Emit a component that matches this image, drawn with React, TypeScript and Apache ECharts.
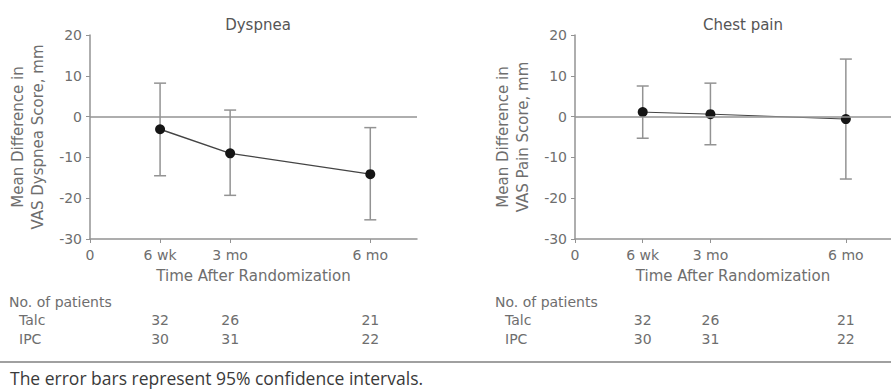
import React, { useEffect, useRef } from "react";
import * as echarts from "echarts";

const timePoints = [1.5, 3, 6];
const timeLabels = ["6 wk", "3 mo", "6 mo"];
const axisTickValues = [0, 1.5, 3, 6];

const dyspneaMean = [-3.1, -9.0, -14.1];
const dyspneaLow = [-14.5, -19.3, -25.3];
const dyspneaHigh = [8.2, 1.6, -2.7];

const chestMean = [1.1, 0.6, -0.6];
const chestLow = [-5.3, -6.9, -15.3];
const chestHigh = [7.5, 8.2, 14.1];

const talcN = [32, 26, 21];
const ipcN = [30, 31, 22];

const panelTitles = ["Dyspnea", "Chest pain"];
const yNames = ["Mean Difference in\nVAS Dyspnea Score, mm", "Mean Difference in\nVAS Pain Score, mm"];
const xName = "Time After Randomization";
const tableHeader = "No. of patients";
const groupNames = ["Talc", "IPC"];
const footnote = "The error bars represent 95% confidence intervals.";

const FONT = "DejaVu Sans, sans-serif";
const AXIS = "#939393";
const TEXT = "#6e6e6e";

export default function App() {
  const ref = useRef<HTMLDivElement>(null);
  useEffect(() => {
    if (!ref.current) return;
    const chart = echarts.init(ref.current, undefined, { renderer: "svg" });

    const grids = [
      { left: 90, top: 35, width: 327, height: 204 },
      { left: 575, top: 35, width: 327, height: 204 },
    ];

    const xAxes: any[] = [];
    const yAxes: any[] = [];
    const series: any[] = [];

    const means = [dyspneaMean, chestMean];
    const lows = [dyspneaLow, chestLow];
    const highs = [dyspneaHigh, chestHigh];
    const counts = [talcN, ipcN];
    const countOffsets = [74, 93];

    [0, 1].forEach((g) => {
      xAxes.push({
        type: "value",
        gridIndex: g,
        min: 0,
        max: 7,
        axisLine: { onZero: false, lineStyle: { color: AXIS, width: 1.5 } },
        axisTick: { show: true, customValues: axisTickValues, length: 4, lineStyle: { color: AXIS } },
        splitLine: { show: false },
        axisLabel: {
          customValues: axisTickValues,
          color: TEXT,
          fontFamily: FONT,
          fontSize: 14,
          margin: 9,
          formatter: (v: number) => (v === 0 ? "0" : timeLabels[timePoints.indexOf(v)]),
        },
        name: xName,
        nameLocation: "middle",
        nameGap: 29,
        nameTextStyle: { color: TEXT, fontFamily: FONT, fontSize: 15 },
      });
      counts.forEach((arr, r) => {
        xAxes.push({
          type: "value",
          gridIndex: g,
          min: 0,
          max: 7,
          position: "bottom",
          offset: countOffsets[r],
          axisLine: { show: false },
          axisTick: { show: false },
          splitLine: { show: false },
          axisLabel: {
            customValues: timePoints,
            color: TEXT,
            fontFamily: FONT,
            fontSize: 14,
            margin: 0,
            formatter: (v: number) => String(arr[timePoints.indexOf(v)]),
          },
        });
      });

      yAxes.push({
        type: "value",
        gridIndex: g,
        min: -30,
        max: 20,
        interval: 10,
        axisLine: { show: true, lineStyle: { color: AXIS, width: 1.5 } },
        axisTick: { show: true, length: 4, lineStyle: { color: AXIS } },
        splitLine: { show: false },
        axisLabel: { color: TEXT, fontFamily: FONT, fontSize: 14, margin: 8 },
        name: yNames[g],
        nameLocation: "middle",
        nameRotate: 90,
        nameGap: 42,
        nameTextStyle: { color: TEXT, fontFamily: FONT, fontSize: 15, lineHeight: 20 },
      });

      const xi = g * 3;
      series.push({
        type: "custom",
        xAxisIndex: xi,
        yAxisIndex: g,
        clip: false,
        z: 1,
        data: timePoints.map((t, i) => [t, lows[g][i], highs[g][i]]),
        renderItem: (_p: any, api: any) => {
          const x = api.value(0);
          const lo = api.coord([x, api.value(1)]);
          const hi = api.coord([x, api.value(2)]);
          const cap = 6;
          const st = { stroke: AXIS, lineWidth: 1.5 };
          return {
            type: "group",
            children: [
              { type: "line", shape: { x1: lo[0], y1: lo[1], x2: hi[0], y2: hi[1] }, style: st },
              { type: "line", shape: { x1: lo[0] - cap, y1: lo[1], x2: lo[0] + cap, y2: lo[1] }, style: st },
              { type: "line", shape: { x1: hi[0] - cap, y1: hi[1], x2: hi[0] + cap, y2: hi[1] }, style: st },
            ],
          };
        },
      });
      series.push({
        type: "line",
        xAxisIndex: xi,
        yAxisIndex: g,
        z: 3,
        data: timePoints.map((t, i) => [t, means[g][i]]),
        symbol: "circle",
        symbolSize: 10,
        itemStyle: { color: "#151515" },
        lineStyle: { color: "#444", width: g === 0 ? 1.4 : 1 },
        markLine: {
          silent: true,
          symbol: "none",
          label: { show: false },
          lineStyle: { color: AXIS, width: 1.5, type: "solid" },
          data: [{ yAxis: 0 }],
        },
      });
    });

    const tableText = (x: number, y: number, text: string) => ({
      type: "text",
      x,
      y,
      style: { text, fill: TEXT, font: `14px ${FONT}`, textVerticalAlign: "middle" },
    });

    chart.setOption({
      animation: false,
      title: panelTitles.map((t, i) => ({
        text: t,
        left: i === 0 ? 253 : 738,
        top: 12,
        textAlign: "center",
        textStyle: { color: "#555", fontFamily: FONT, fontSize: 15, fontWeight: "normal" },
      })),
      grid: grids,
      xAxis: xAxes,
      yAxis: yAxes,
      series,
      graphic: [
        tableText(9, 302, tableHeader),
        tableText(19, 320, groupNames[0]),
        tableText(19, 339, groupNames[1]),
        tableText(495, 302, tableHeader),
        tableText(505, 320, groupNames[0]),
        tableText(505, 339, groupNames[1]),
        {
          type: "line",
          shape: { x1: 0, y1: 362, x2: 891, y2: 362 },
          style: { stroke: "#a0a0a0", lineWidth: 2 },
        },
        {
          type: "text",
          x: 10,
          y: 378,
          style: { text: footnote, fill: "#3a3a3a", font: `17.5px "Open Sans", sans-serif`, textVerticalAlign: "middle" },
        },
      ],
    });

    return () => chart.dispose();
  }, []);

  return (
    <div
      ref={ref}
      style={{ position: "fixed", left: 0, top: 0, width: 891, height: 390, background: "#fff" }}
    />
  );
}
